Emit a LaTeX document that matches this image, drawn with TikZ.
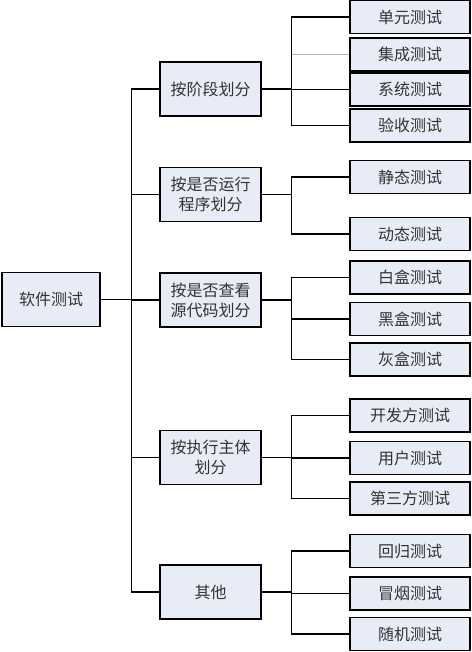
\documentclass[tikz,border=0pt]{standalone}
\usepackage{fontspec}
\newfontfamily\cjk{Noto Sans CJK SC}
\definecolor{boxfill}{RGB}{232,236,246}
\begin{document}
\begin{tikzpicture}[x=1pt,y=-1pt,
  base/.style={draw=black,line width=1.1pt,fill=boxfill,inner sep=0pt,align=center,
    font=\cjk\fontsize{16}{20}\selectfont,text=black!80},
  rootbox/.style={base,minimum width=98pt,minimum height=54pt},
  midbox/.style={base,minimum width=101pt,minimum height=54pt},
  leafbox/.style={base,minimum width=120pt,minimum height=33pt},
  link/.style={line width=1.1pt,draw=black},
  faint/.style={line width=0.7pt,draw=black!30}]
\useasboundingbox (0,0) rectangle (471,652);
% root
\node[rootbox] (root) at (51,299.5) {软件测试};
% level 1
\node[midbox] (l1) at (210.5,89) {按阶段划分};
\node[midbox] (l2) at (210.5,194.5) {按是否运行\\程序划分};
\node[midbox] (l3) at (210.5,300) {按是否查看\\源代码划分};
\node[midbox] (l4) at (210.5,457.5) {按执行主体\\划分};
\node[midbox] (l5) at (210.5,592) {其他};
% leaves
\node[leafbox] (a1) at (410,17) {单元测试};
\node[leafbox] (a2) at (410,54.5) {集成测试};
\node[leafbox] (a3) at (410,89.5) {系统测试};
\node[leafbox] (a4) at (410,125.5) {验收测试};
\node[leafbox] (b1) at (410,177) {静态测试};
\node[leafbox] (b2) at (410,234) {动态测试};
\node[leafbox] (c1) at (410,277.5) {白盒测试};
\node[leafbox] (c2) at (410,319) {黑盒测试};
\node[leafbox] (c3) at (410,359.5) {灰盒测试};
\node[leafbox] (d1) at (410,415.5) {开发方测试};
\node[leafbox] (d2) at (410,458) {用户测试};
\node[leafbox] (d3) at (410,498.5) {第三方测试};
\node[leafbox] (e1) at (410,551) {回归测试};
\node[leafbox] (e2) at (410,593.5) {冒烟测试};
\node[leafbox] (e3) at (410,634) {随机测试};
% faint connector to 集成测试
\path (l1.east) ++(30,0) coordinate (bus1);
\draw[faint] (bus1 |- a2.west) -- (a2.west);
% root connectors
\foreach \t in {l1,l2,l3,l4,l5}
  \draw[link] (root.east) -- ++(31,0) |- (\t.west);
% level-1 connectors
\foreach \s/\t in {l1/a1,l1/a3,l1/a4,l2/b1,l2/b2,l3/c1,l3/c2,l3/c3,l4/d1,l4/d2,l4/d3,l5/e1,l5/e2,l5/e3}
  \draw[link] (\s.east) -- ++(30,0) |- (\t.west);
\end{tikzpicture}
\end{document}
